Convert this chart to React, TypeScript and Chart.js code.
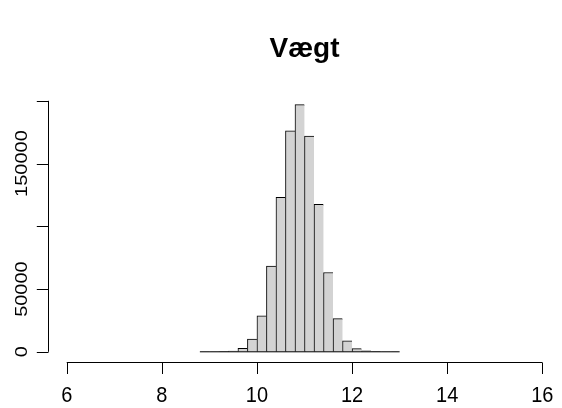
import React, { useEffect, useRef } from "react";
import { Chart, registerables } from "chart.js";

Chart.register(...registerables);

// Histogram bins (left edges, width 0.2) and counts
const binStarts = [8.8, 9.0, 9.2, 9.4, 9.6, 9.8, 10.0, 10.2, 10.4, 10.6, 10.8, 11.0, 11.2, 11.4, 11.6, 11.8, 12.0, 12.2, 12.4, 12.6, 12.8];
const binWidth = 0.2;
const counts = [10, 30, 120, 600, 2800, 10200, 28700, 68300, 123000, 176000, 197000, 172000, 117500, 63200, 26500, 8700, 2500, 700, 150, 30, 10];

const xTicks = [6, 8, 10, 12, 14, 16];
const yTicks = [0, 50000, 100000, 150000, 200000];
const yLabelShown = ["0", "50000", "", "150000", ""];
const title = "Vægt";
const xLim = [6, 16];

const FONT = "'Liberation Sans', Arial, Helvetica, sans-serif";

function drawScaledText(
  ctx: CanvasRenderingContext2D,
  text: string,
  x: number,
  y: number,
  font: string,
  sx: number,
  sy: number,
  rot: number
) {
  ctx.save();
  ctx.translate(x, y);
  ctx.rotate(rot);
  ctx.scale(sx, sy);
  ctx.font = font;
  ctx.textAlign = "center";
  ctx.textBaseline = "alphabetic";
  ctx.fillStyle = "#000";
  ctx.fillText(text, 0, 0);
  ctx.restore();
}

const rAxesPlugin = {
  id: "rAxes",
  afterDraw(chart: any) {
    const ctx: CanvasRenderingContext2D = chart.ctx;
    const xs = chart.scales.x;
    const ys = chart.scales.y;
    const area = chart.chartArea;
    ctx.save();
    ctx.strokeStyle = "#000";
    ctx.lineWidth = 1;
    ctx.lineCap = "butt";
    // x axis
    const yb = Math.round(area.bottom) + 0.5;
    ctx.beginPath();
    ctx.moveTo(xs.getPixelForValue(xLim[0]), yb);
    ctx.lineTo(xs.getPixelForValue(xLim[1]), yb);
    for (const t of xTicks) {
      const px = Math.round(xs.getPixelForValue(t)) + 0.5;
      ctx.moveTo(px, yb);
      ctx.lineTo(px, yb + 11.5);
    }
    ctx.stroke();
    for (const t of xTicks) {
      drawScaledText(ctx, String(t), xs.getPixelForValue(t), 401.5, `20px ${FONT}`, 1, 1.12, 0);
    }
    // y axis
    const xl = Math.round(area.left) + 0.5;
    ctx.beginPath();
    ctx.moveTo(xl, ys.getPixelForValue(yTicks[0]));
    ctx.lineTo(xl, ys.getPixelForValue(yTicks[yTicks.length - 1]));
    for (const t of yTicks) {
      const py = Math.round(ys.getPixelForValue(t)) + 0.5;
      ctx.moveTo(xl, py);
      ctx.lineTo(xl - 11.7, py);
    }
    ctx.stroke();
    yTicks.forEach((t, i) => {
      const lab = yLabelShown[i];
      if (lab) drawScaledText(ctx, lab, 27.3, ys.getPixelForValue(t), `20px ${FONT}`, 1, 0.86, -Math.PI / 2);
    });
    // title
    drawScaledText(ctx, title, (area.left + area.right) / 2, 56.7, `bold 28px ${FONT}`, 1, 1, 0);
    ctx.restore();
  },
};

export default function App() {
  const ref = useRef<HTMLCanvasElement | null>(null);
  useEffect(() => {
    if (!ref.current) return;
    const ymax = Math.max(...counts);
    const pad = 0.04 * ymax;
    const xpad = 0.04 * (xLim[1] - xLim[0]);
    const n = counts.length;
    const chart = new Chart(ref.current, {
      type: "bar",
      data: {
        datasets: [
          {
            type: "bar",
            data: counts.map((c, i) => ({ x: binStarts[i] + binWidth / 2, y: c })),
            backgroundColor: "#d3d3d3",
            borderColor: "#000",
            borderWidth: ((c: any) => ({ left: 1, top: 1, right: c.dataIndex === n - 1 ? 1 : 0, bottom: 0 })) as any,
            borderSkipped: false,
            barPercentage: 1,
            categoryPercentage: 1,
            order: 2,
          } as any,
          {
            type: "line",
            data: [
              { x: binStarts[0], y: 0 },
              { x: binStarts[n - 1] + binWidth, y: 0 },
            ],
            borderColor: "#000",
            borderWidth: 1,
            pointRadius: 0,
            order: 1,
          } as any,
        ],
      },
      options: {
        responsive: false,
        animation: false,
        devicePixelRatio: 1,
        layout: { padding: { left: 47.7, right: 0.7, top: 94.7, bottom: 46.3 } },
        plugins: { legend: { display: false }, tooltip: { enabled: false }, title: { display: false } },
        scales: {
          x: { type: "linear", min: xLim[0] - xpad, max: xLim[1] + xpad, display: false, offset: false },
          y: { type: "linear", min: -pad, max: ymax + pad, display: false },
        },
      },
      plugins: [rAxesPlugin],
    });
    return () => chart.destroy();
  }, []);
  return (
    <div style={{ position: "fixed", left: 0, top: 0, width: 562, height: 408, background: "#fff" }}>
      <canvas ref={ref} width={562} height={408} style={{ width: 562, height: 408 }} />
    </div>
  );
}
